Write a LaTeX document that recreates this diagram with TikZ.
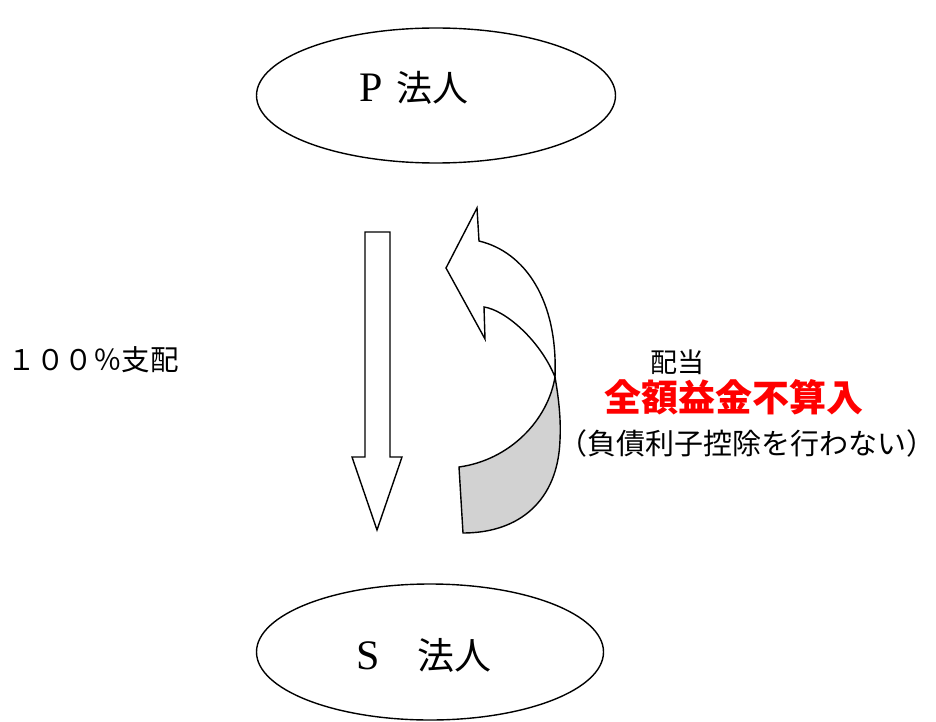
\documentclass[tikz,border=0pt]{standalone}
\usepackage{fontspec}
\setmainfont{Liberation Serif}
\newfontfamily\jp{Noto Sans CJK JP}
\usetikzlibrary{shapes.geometric}
\definecolor{hired}{RGB}{255,0,0}
\definecolor{ribbon}{RGB}{210,210,210}
\begin{document}
\begin{tikzpicture}[x=1pt,y=-1pt, line width=1.4pt, line join=miter,
  ent/.style={draw, ellipse, inner sep=0pt},
  lbl/.style={inner sep=0pt, anchor=center},
  entlbl/.style={inner sep=0pt, anchor=base west},
  blockarrow/.style={draw, fill=white, line width=1.4pt},
  backface/.style={draw, fill=ribbon, line width=1.4pt}]
\useasboundingbox (0,0) rectangle (936,722);
% entities
\node[ent, minimum width=359pt, minimum height=135pt] (P) at (436,95.5) {};
\node[ent, minimum width=347pt, minimum height=136pt] (S) at (430,652) {};
\node[entlbl] (Pt) at (359,102) {\fontsize{42}{44}\selectfont P\hspace{13pt}{\jp\fontsize{36}{40}\selectfont 法人}};
\node[entlbl] (St) at (356,669) {\fontsize{42}{44}\selectfont S\hspace{37pt}{\jp\fontsize{37}{40}\selectfont 法人}};
% down block arrow (100% control)
\draw[blockarrow] (365,232) -- (390,232) -- (390,457) -- (402,457) -- (377,530)
  -- (352,457) -- (365,457) -- cycle;
% curved block arrow (dividend): back face
\draw[backface] (555,377) .. controls (559,400) and (561,420) .. (560,440)
  .. controls (558,500) and (520,533) .. (463,533)
  -- (459,467)
  .. controls (510,460) and (548,420) .. (555,377) -- cycle;
% front face with head
\draw[blockarrow] (479,241) -- (477,208) -- (446,268) -- (485,339) -- (484,307)
  .. controls (505,310) and (540,340) .. (555,377)
  .. controls (558,300) and (525,252) .. (479,241) -- cycle;
% labels
\node[lbl, font=\jp\fontsize{28.5}{32}\selectfont] (ctl) at (93,360) {１００％支配};
\node[lbl, font=\jp\fontsize{27}{30}\selectfont] (div) at (677,362) {配当};
\node[lbl, font=\jp\bfseries\fontsize{37}{40}\selectfont, text=hired] (exc) at (733.5,397) {全額益金不算入};
\node[lbl, font=\jp\fontsize{29}{33}\selectfont] (note) at (747,443) {（負債利子控除を行わない）};
\end{tikzpicture}
\end{document}
